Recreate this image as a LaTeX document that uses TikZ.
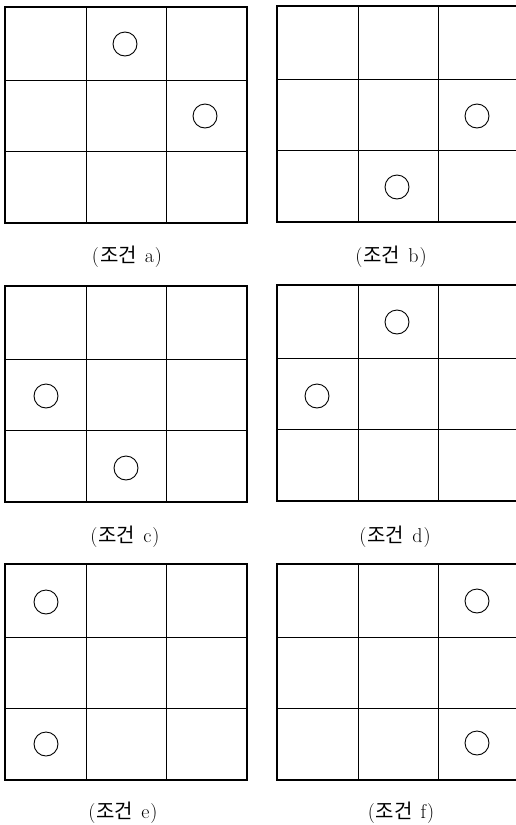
\documentclass[tikz,border=0pt]{standalone}
\usepackage{fontspec}
\newfontfamily\krfont{Noto Sans CJK KR}
\newcommand\condlabel[1]{(\hspace{1pt}{\krfont\fontsize{20}{22}\selectfont 조건}\hspace{8pt}#1\hspace{1pt})}
\begin{document}
\begin{tikzpicture}[x=1pt,y=-1pt,
  outer/.style={line width=2.6pt},
  inner/.style={line width=0.9pt},
  ring/.style={circle,draw,line width=0.9pt,minimum size=24pt,inner sep=0pt},
  caption/.style={inner sep=0pt,font=\fontsize{20}{22}\selectfont}]
\useasboundingbox (0,0) rectangle (516,825);
\clip (0,0) rectangle (516,825);
\newcommand\mygrid[2]{%
  \draw[inner] (#1+81,#2) -- (#1+81,#2+216);
  \draw[inner] (#1+161,#2) -- (#1+161,#2+216);
  \draw[inner] (#1,#2+73) -- (#1+242,#2+73);
  \draw[inner] (#1,#2+144) -- (#1+242,#2+144);
  \draw[outer] (#1,#2) rectangle (#1+242,#2+216);}
% grids
\mygrid{5}{7}
\mygrid{277}{6}
\mygrid{5}{286}
\mygrid{277}{285}
\mygrid{5}{564}
\mygrid{277}{564}
% circles
\node[ring] (a1) at (125,44) {};
\node[ring] (a2) at (205,116) {};
\node[ring] (b1) at (477,116) {};
\node[ring] (b2) at (397,187) {};
\node[ring] (c1) at (46,396) {};
\node[ring] (c2) at (126,468) {};
\node[ring] (d1) at (397,322) {};
\node[ring] (d2) at (317,396) {};
\node[ring] (e1) at (46,602) {};
\node[ring] (e2) at (46,744) {};
\node[ring] (f1) at (477,601) {};
\node[ring] (f2) at (477,743) {};
% captions
\node[caption] (la) at (127,257) {\condlabel{a}};
\node[caption] (lb) at (391,257) {\condlabel{b}};
\node[caption] (lc) at (125,537) {\condlabel{c}};
\node[caption] (ld) at (395,537) {\condlabel{d}};
\node[caption] (le) at (123,813) {\condlabel{e}};
\node[caption] (lf) at (401,813) {\condlabel{f}};
\end{tikzpicture}
\end{document}
